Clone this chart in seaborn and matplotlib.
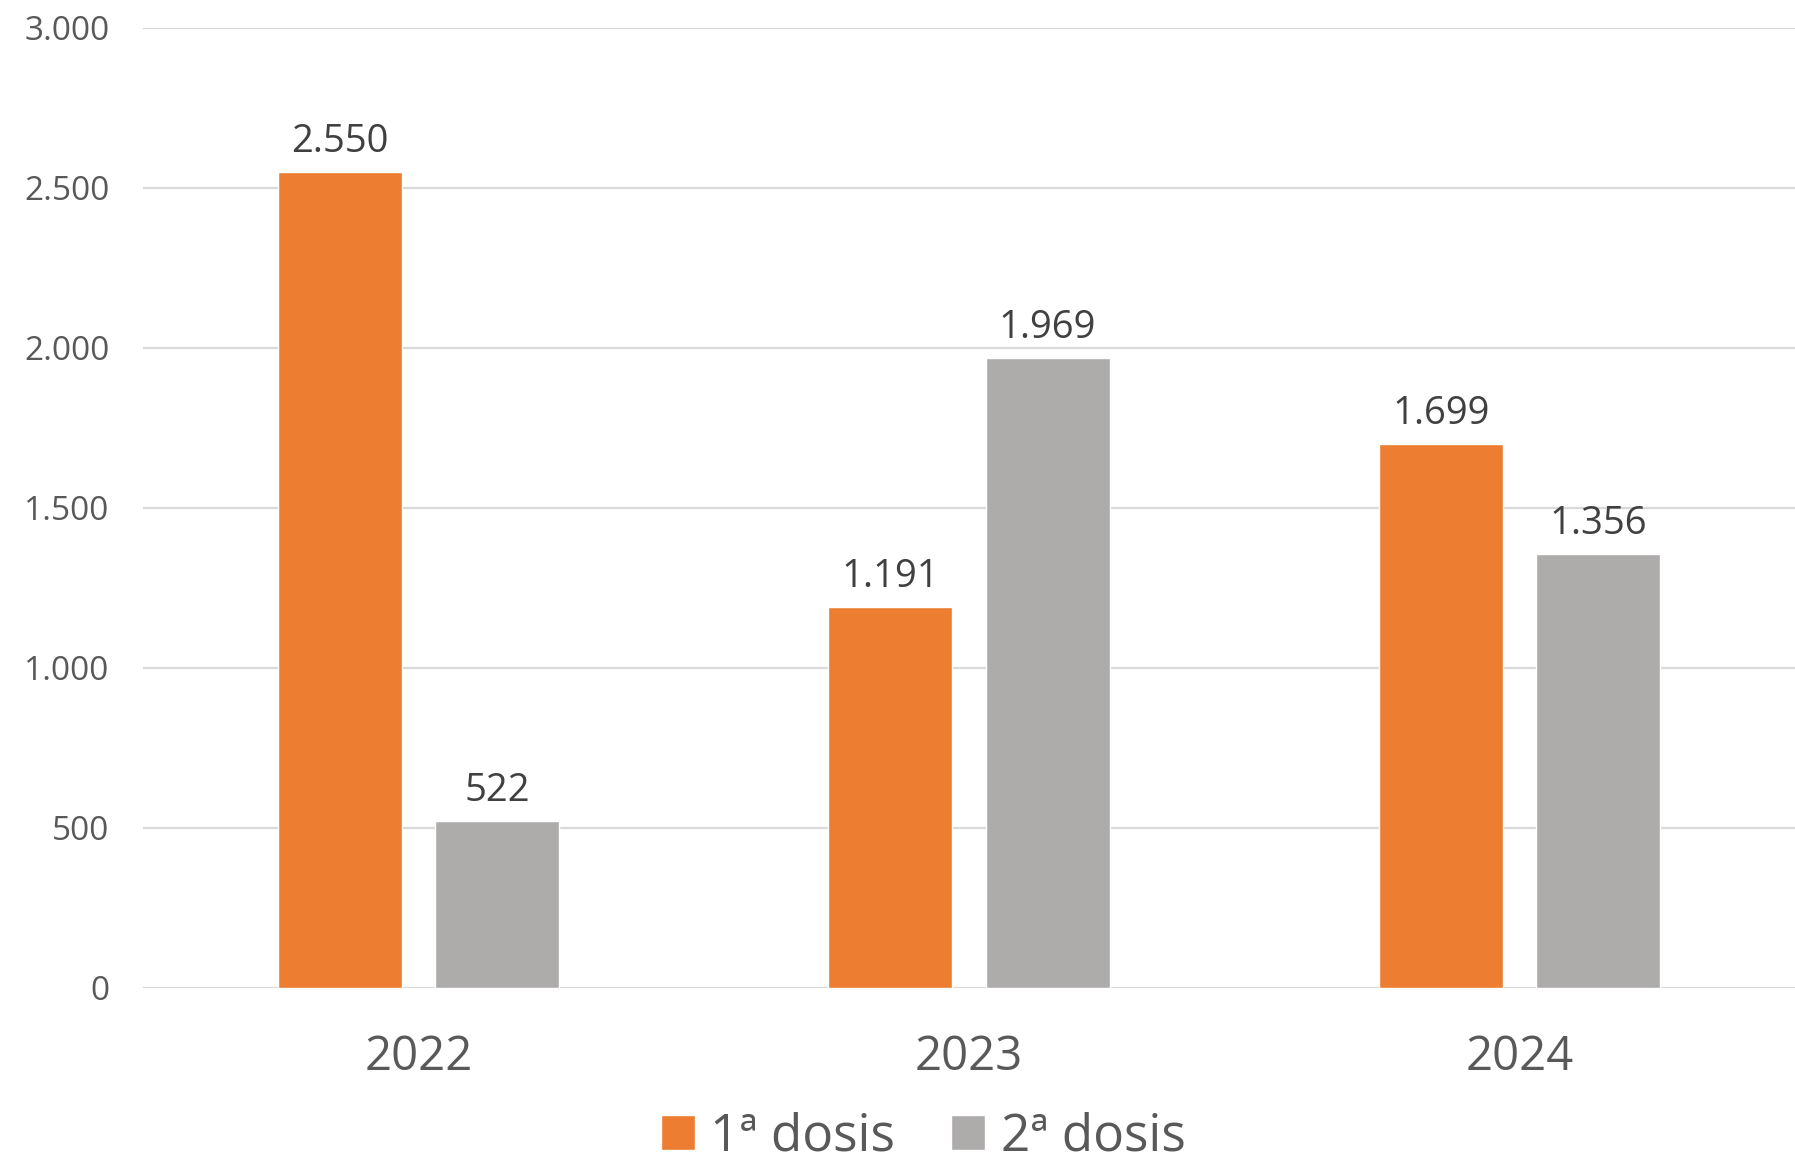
import matplotlib
matplotlib.use("Agg")
import matplotlib.pyplot as plt
import seaborn as sns
import pandas as pd

years = ["2022", "2023", "2024"]
dosis_1 = [2550, 1191, 1699]
dosis_2 = [522, 1969, 1356]
series_names = ["1ª dosis", "2ª dosis"]
y_ticks = [0, 500, 1000, 1500, 2000, 2500, 3000]

def fmt_es(v):
    return f"{int(v):,}".replace(",", ".")

df = pd.DataFrame({
    "year": years * 2,
    "valor": dosis_1 + dosis_2,
    "serie": [series_names[0]] * 3 + [series_names[1]] * 3,
})

sns.set_style("white")
plt.rcParams["font.family"] = ["Open Sans", "DejaVu Sans"]

fig = plt.figure(figsize=(17.95, 11.61), dpi=100)
ax = fig.add_axes([143 / 1795, 1 - 988 / 1161, 1 - 143 / 1795, (988 - 28) / 1161])

sns.barplot(data=df, x="year", y="valor", hue="serie", order=years,
            palette=["#ED7D31", "#AEABAB"], width=0.571, gap=0.21,
            saturation=1, ax=ax, legend=True)

for cont in ax.containers:
    ax.bar_label(cont, labels=[fmt_es(v) for v in cont.datavalues],
                 padding=8, fontsize=27.5, color="#404040")

ax.set_ylim(0, 3000)
ax.set_xlim(-0.5, 2.5)
ax.set_yticks(y_ticks)
ax.set_yticklabels([fmt_es(v) for v in y_ticks])
ax.yaxis.grid(True, color="#D9D9D9", linewidth=1.6)
ax.set_axisbelow(True)
for s in ax.spines.values():
    s.set_visible(False)
ax.tick_params(axis="y", length=0, pad=24, labelsize=24, labelcolor="#595959")
ax.tick_params(axis="x", length=0, pad=33, labelsize=34, labelcolor="#595959")
ax.set_xlabel("")
ax.set_ylabel("")

handles, labels = ax.get_legend_handles_labels()
ax.legend_.remove()
fig.legend(handles, labels, loc="center", bbox_to_anchor=(923 / 1795, 1 - 1137 / 1161),
           ncol=2, frameon=False, fontsize=37, labelcolor="#595959",
           handlelength=0.66, handleheight=0.66, handletextpad=0.3,
           columnspacing=1.1)

fig.savefig("out.png", dpi=100, facecolor="white")
